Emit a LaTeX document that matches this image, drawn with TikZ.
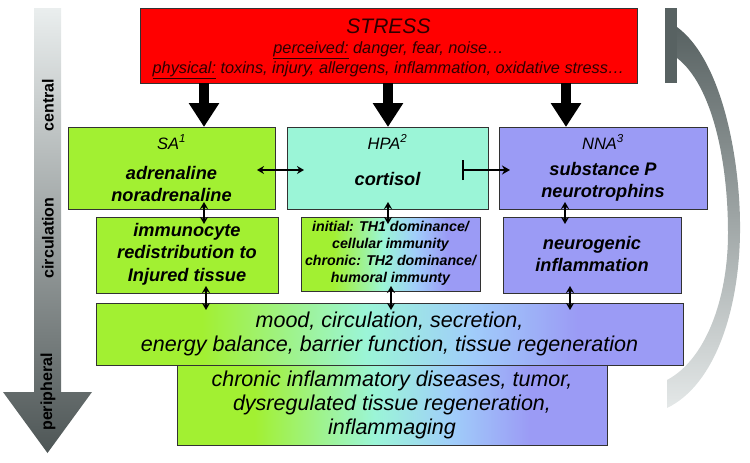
\documentclass[tikz,border=0pt]{standalone}
\usepackage{fontspec}
\setmainfont{Liberation Sans}
\usetikzlibrary{arrows.meta}
\definecolor{cred}{RGB}{255,0,0}
\definecolor{stxt}{RGB}{45,0,0}
\definecolor{cg}{RGB}{162,240,50}
\definecolor{caq}{RGB}{155,245,215}
\definecolor{clb}{RGB}{160,205,250}
\definecolor{cbl}{RGB}{155,155,245}
\definecolor{bord}{RGB}{50,50,50}
\definecolor{glight}{RGB}{234,238,238}
\definecolor{gdark}{RGB}{78,86,86}
\definecolor{rdark}{RGB}{88,98,98}
\definecolor{rlight}{RGB}{228,232,232}
\pgfdeclarehorizontalshading{gbb}{100bp}{color(0bp)=(cg); color(34bp)=(cg); color(48bp)=(caq); color(57bp)=(clb); color(66bp)=(cbl); color(100bp)=(cbl)}
\tikzset{
  box/.style={draw=bord, line width=0.8pt, inner sep=0pt, outer sep=0pt, anchor=north west},
  gradbox/.style={box, shading=gbb},
  bigtxt/.style={font=\fontsize{18.2}{22.5}\selectfont\bfseries\itshape, align=center},
  smalltxt/.style={font=\fontsize{14.2}{17}\selectfont\bfseries\itshape, align=center},
  ttl/.style={font=\fontsize{16.5}{19}\selectfont\itshape},
  plaintxt/.style={font=\fontsize{21.5}{24}\selectfont\itshape, align=center},
  sidetxt/.style={font=\fontsize{16}{19}\selectfont\bfseries, rotate=90},
  bigarrow/.style={line width=10pt, -{Triangle[width=29pt,length=24pt]}},
  dbl/.style={line width=2pt, {Stealth[length=7pt,width=8pt]}-{Stealth[length=7pt,width=8pt]}},
  inhib/.style={line width=2.2pt, {Bar[width=20pt]}-{Stealth[length=8pt,width=9pt]}}
}
\begin{document}
\begin{tikzpicture}[x=1pt,y=-1pt]
\useasboundingbox (0,0) rectangle (750,463);
% left vertical arrow
\shade[top color=glight, bottom color=gdark] (34,8) -- (61,8) -- (61,392) -- (92,392) -- (47.5,453) -- (3,392) -- (34,392) -- cycle;
\node[sidetxt] (lc) at (48,105) {central};
\node[sidetxt] (lci) at (48,238) {circulation};
\node[sidetxt] (lp) at (48,392) {peripheral};
% right feedback band
\fill[rdark] (665,8) rectangle (677,83);
\shade[top color=rdark, bottom color=rlight] (677,27) .. controls (722,60) and (741,160) .. (740,233) .. controls (739,310) and (715,385) .. (667,408) -- (667,380) .. controls (705,360) and (728,300) .. (728,233) .. controls (728,160) and (712,85) .. (677,58) -- cycle;
% boxes
\node[box, fill=cred, minimum width=497pt, minimum height=75pt] (stress) at (140,8) {};
\node[box, fill=cg, minimum width=207pt, minimum height=82pt] (sa) at (68,127) {};
\node[box, fill=caq, minimum width=201pt, minimum height=82pt] (hpa) at (287,127) {};
\node[box, fill=cbl, minimum width=208pt, minimum height=82pt] (nna) at (499,127) {};
\node[box, fill=cg, minimum width=182pt, minimum height=76pt] (imm) at (96,217) {};
\node[gradbox, minimum width=179pt, minimum height=74pt] (th) at (301,217) {};
\node[box, fill=cbl, minimum width=178pt, minimum height=76pt] (neu) at (503,217) {};
\node[gradbox, minimum width=587pt, minimum height=62pt] (mood) at (96,303) {};
\node[gradbox, minimum width=430pt, minimum height=80pt] (chr) at (177,365) {};
% texts
\node[font=\fontsize{16.3}{20}\selectfont\itshape, text=stxt, align=center] (stresstxt) at (388.5,48.5) {{\fontsize{21}{23}\selectfont STRESS}\\[0pt]\underline{perceived:} danger, fear, noise…\\\underline{physical:} toxins, injury, allergens, inflammation, oxidative stress…};
\node[ttl] (satl) at (171.5,142) {SA\textsuperscript{1}};
\node[bigtxt] (satx) at (171.5,184) {adrenaline\\noradrenaline};
\node[ttl] (hpatl) at (387.5,142) {HPA\textsuperscript{2}};
\node[bigtxt] (hpatx) at (387.5,179) {cortisol};
\node[ttl] (nnatl) at (603,142) {NNA\textsuperscript{3}};
\node[bigtxt] (nnatx) at (603,182) {substance P\\neurotrophins};
\node[bigtxt] (immtx) at (187,254) {immunocyte\\redistribution to\\Injured tissue};
\node[smalltxt] (thtx) at (390.5,253) {initial: TH1 dominance/\\cellular immunity\\chronic: TH2 dominance/\\humoral immunty};
\node[bigtxt] (neutx) at (592,254) {neurogenic\\inflammation};
\node[plaintxt] (moodtx) at (389.5,334) {mood, circulation, secretion,\\energy balance, barrier function, tissue regeneration};
\node[plaintxt] (chrtx) at (392,405) {chronic inflammatory diseases, tumor,\\dysregulated tissue regeneration,\\inflammaging};
% big arrows from STRESS
\coordinate (s1) at (204,83);
\coordinate (s2) at (388,83);
\coordinate (s3) at (566,83);
\draw[bigarrow] (s1) -- (s1 |- sa.north);
\draw[bigarrow] (s2) -- (s2 |- hpa.north);
\draw[bigarrow] (s3) -- (s3 |- nna.north);
% horizontal interactions
\coordinate (h1) at (257,170);
\coordinate (h2) at (304,170);
\draw[dbl] (h1) -- (h2);
\coordinate (t1) at (462,170);
\coordinate (t2) at (510,170);
\draw[inhib] (t1) -- (t2);
% vertical double arrows
\coordinate (v1a) at (204,202); \coordinate (v1b) at (204,224);
\coordinate (v2a) at (388,202); \coordinate (v2b) at (388,224);
\coordinate (v3a) at (565,202); \coordinate (v3b) at (565,224);
\draw[dbl] (v1a) -- (v1b);
\draw[dbl] (v2a) -- (v2b);
\draw[dbl] (v3a) -- (v3b);
\coordinate (w1a) at (206,286); \coordinate (w1b) at (206,310);
\coordinate (w2a) at (391,286); \coordinate (w2b) at (391,310);
\coordinate (w3a) at (570,286); \coordinate (w3b) at (570,310);
\draw[dbl] (w1a) -- (w1b);
\draw[dbl] (w2a) -- (w2b);
\draw[dbl] (w3a) -- (w3b);
\end{tikzpicture}
\end{document}
